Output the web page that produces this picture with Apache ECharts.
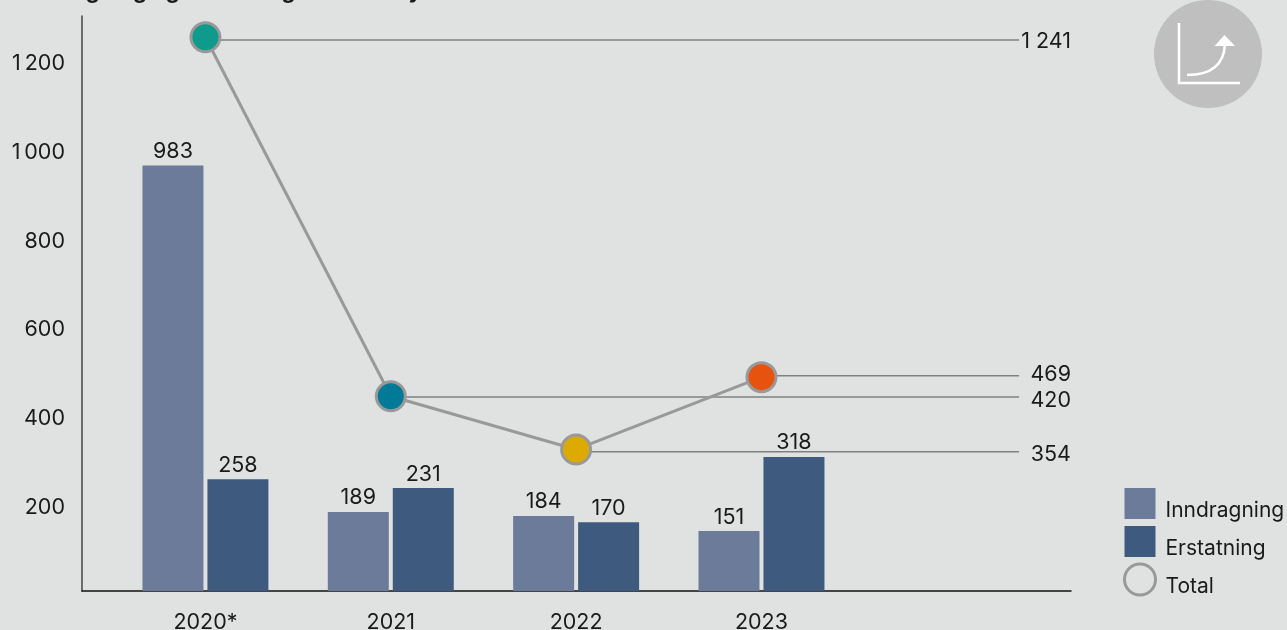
<!DOCTYPE html>
<html><head><meta charset="utf-8">
<style>html,body{margin:0;padding:0;background:#e0e2e1;overflow:hidden}#c{width:1287px;height:630px}</style>
<script src="https://cdn.jsdelivr.net/npm/echarts@6/dist/echarts.min.js"></script>
</head><body><div id="c"></div>
<script>
const categories = ['2020*', '2021', '2022', '2023'];
const yTicks = [200, 400, 600, 800, 1000, 1200];
// Drawn heights as read against the axis; the printed labels differ slightly in the original artwork.
const inndragningDrawn = [965, 184, 175, 141];
const erstatningDrawn = [258, 238, 161, 308];
const totalDrawn = [1254, 445, 325, 488];
const leaderLevels = [1248, 443, 320, 491];
const endLabelLevels = [1245, 493, 436, 313];
const inndragningLabels = ['983', '189', '184', '151'];
const erstatningLabels = ['258', '231', '170', '318'];
const endLabels = ['1 241', '469', '420', '354'];
const pointColors = ['#0f9b8c', '#007a97', '#dcaa00', '#e8520f'];
const leaderIdx = [0, 1, 2, 3];

const FONT = 'Inter';
const TXT = '#1a1a1a';
const FS = 21.5;
const leaderEnd = 4.39, axisEnd = 4.67;

const chart = echarts.init(document.getElementById('c'), null, {renderer: 'canvas'});
const fmtThousand = v => v >= 1000 ? String(v).slice(0, -3) + '\u2009' + String(v).slice(-3) : String(v);

const leaderSeries = leaderIdx.map(i => ({
  type: 'line', silent: true, symbol: 'none', z: 1, animation: false,
  lineStyle: {color: '#808080', width: 1.5},
  data: [[i, leaderLevels[i]], [leaderEnd, leaderLevels[i]]]
}));

chart.setOption({
  animation: false,
  backgroundColor: '#e0e2e1',
  textStyle: {fontFamily: FONT},
  title: {text: 'Inndragning og erstatning i alt etter fylke', left: 12, top: -25,
    textStyle: {fontFamily: FONT, fontSize: 22, fontWeight: 'bold', color: TXT}},
  grid: {left: 82, right: 216, top: 16, bottom: 39, outerBoundsMode: 'none'},
  xAxis: {
    type: 'value', min: -0.666, max: axisEnd,
    splitLine: {show: false},
    axisTick: {show: false},
    axisLine: {show: true, onZero: false, lineStyle: {color: '#111', width: 1.5}},
    axisLabel: {customValues: [0, 1, 2, 3], formatter: v => categories[v], margin: 21,
      color: TXT, fontSize: FS, fontFamily: FONT}
  },
  yAxis: {
    type: 'value', min: 6, max: 1302,
    splitLine: {show: false},
    axisTick: {show: false},
    axisLine: {show: true, onZero: false, lineStyle: {color: '#444', width: 1.5}},
    axisLabel: {customValues: yTicks, formatter: v => '{t|' + fmtThousand(v) + '}', margin: 17,
      rich: {t: {color: TXT, fontSize: FS, fontFamily: FONT, padding: [5, 0, 0, 0]}}}
  },
  legend: {
    orient: 'vertical', left: 1123, top: 486, padding: 0, itemWidth: 31, itemHeight: 31, itemGap: 3,
    selectedMode: false,
    formatter: n => '{s|}\n{t|' + n + '}',
    textStyle: {padding: [0, 0, 0, 5],
      rich: {s: {height: 14, lineHeight: 14, fontSize: 1},
             t: {fontFamily: FONT, fontSize: 21, color: TXT, lineHeight: 21}}},
    data: [
      {name: 'Inndragning', icon: 'rect'},
      {name: 'Erstatning', icon: 'rect'},
      {name: 'Total', icon: 'circle', itemStyle: {color: 'transparent', borderColor: '#999', borderWidth: 3}}
    ]
  },
  graphic: [
    {type: 'circle', z: 0, shape: {cx: 1208, cy: 54, r: 54}, style: {fill: '#bfbfbf'}},
    {type: 'polyline', z: 1, shape: {points: [[1179, 23], [1179, 83], [1240, 83]]},
      style: {stroke: '#fff', lineWidth: 2.5, fill: 'none'}},
    {type: 'bezierCurve', z: 1, shape: {x1: 1187, y1: 75, cpx1: 1210, cpy1: 75, cpx2: 1224, cpy2: 66, x2: 1225, y2: 44},
      style: {stroke: '#fff', lineWidth: 2.5, fill: 'none'}},
    {type: 'polygon', z: 1, shape: {points: [[1224.5, 35], [1235, 46], [1214.5, 46]]}, style: {fill: '#fff'}}
  ],
  series: [
    {name: 'Inndragning', type: 'bar', barWidth: 61, barGap: '6.5%', z: 2,
      itemStyle: {color: '#6d7b9a'},
      label: {show: true, position: 'top', distance: 3, color: TXT, fontSize: FS, fontFamily: FONT,
        formatter: p => inndragningLabels[p.dataIndex]},
      data: inndragningDrawn.map((v, i) => [i, v])},
    {name: 'Erstatning', type: 'bar', barWidth: 61, z: 2,
      itemStyle: {color: '#3f5a7f'},
      label: {show: true, position: 'top', distance: 3, color: TXT, fontSize: FS, fontFamily: FONT,
        formatter: p => erstatningLabels[p.dataIndex]},
      data: erstatningDrawn.map((v, i) => [i, v])},
    ...leaderSeries,
    {name: 'Total', type: 'line', z: 5, symbol: 'circle', symbolSize: 29, showSymbol: true,
      lineStyle: {color: '#999', width: 3},
      itemStyle: {color: '#999', borderColor: '#999', borderWidth: 3},
      data: totalDrawn.map((v, i) => ({value: [i, v],
        itemStyle: {color: pointColors[i], borderColor: '#999', borderWidth: 3}}))},
    {type: 'scatter', symbolSize: 0, z: 6, silent: true, itemStyle: {opacity: 1},
      label: {show: true, position: 'left', distance: 0, color: TXT, fontSize: FS, fontFamily: FONT,
        formatter: p => endLabels[p.dataIndex]},
      data: endLabelLevels.map(v => [axisEnd, v])}
  ]
});
</script></body></html>
